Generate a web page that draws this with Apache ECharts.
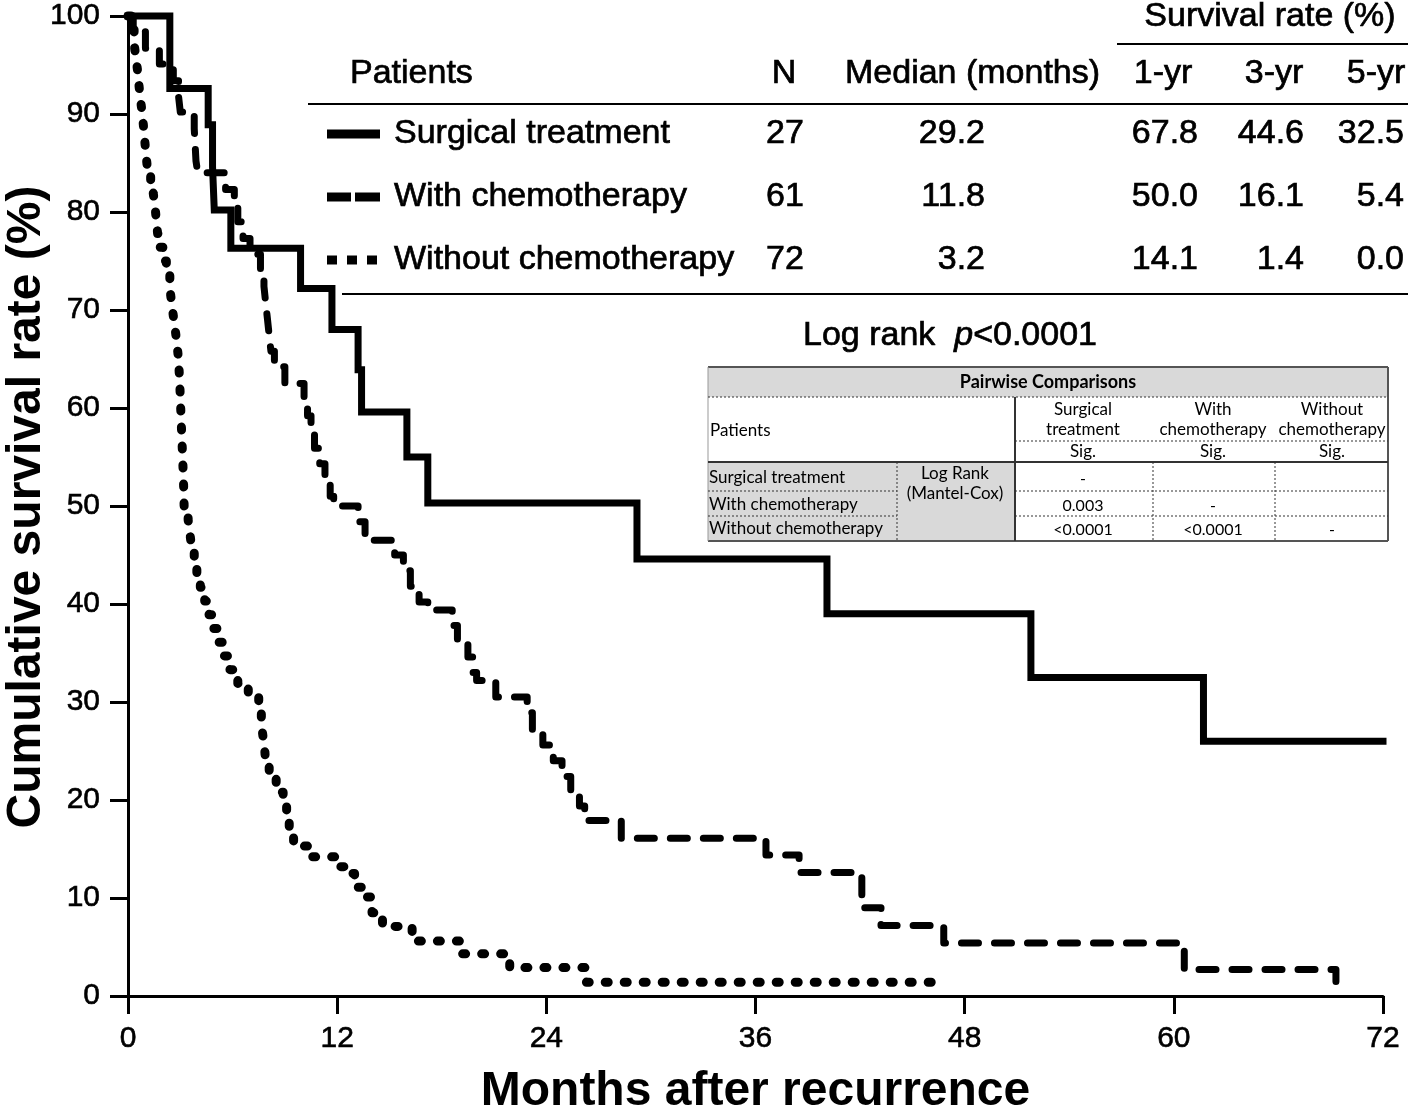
<!DOCTYPE html>
<html><head><meta charset="utf-8">
<script src="https://cdn.jsdelivr.net/npm/echarts@6/dist/echarts.min.js"></script>
<style>html,body{margin:0;padding:0;background:#fff}#c{width:1418px;height:1117px}</style>
</head><body><div id="c"></div><script>
// ---- Kaplan-Meier data (months, survival %) ----
const surgicalMonths = [0, 2.4, 4.6, 4.85, 4.95, 5.9, 9.9, 11.7, 13.2, 13.4, 16.0, 17.2, 29.2, 40.1, 51.8, 61.7, 72];
const surgicalSurv   = [100, 92.6, 88.9, 84.6, 80.2, 76.3, 72.2, 68.0, 63.9, 59.6, 55.0, 50.3, 44.6, 39.0, 32.5, 26.0, 26.0];

const chemoMonths = [0, 0.3, 1.0, 1.8, 2.6, 2.9, 3.0, 3.8, 3.85, 3.9, 4.0, 5.6, 6.1, 6.3, 6.6, 7.0, 7.6, 7.8, 7.9, 8.0, 8.1, 8.2, 8.4, 9.0, 10.1, 10.3, 10.5, 10.7, 11.0, 11.3, 11.6, 11.8, 13.2, 13.6, 15.3, 15.8, 16.2, 16.7, 17.2, 18.6, 18.9, 19.5, 19.8, 20.0, 21.1, 22.9, 23.2, 23.8, 24.4, 24.9, 25.4, 25.9, 26.2, 28.3, 36.6, 38.5, 42.1, 43.2, 46.8, 60.6, 69.3];
const chemoSurv   = [100, 98.4, 96.7, 95.1, 93.4, 91.8, 90.2, 88.5, 86.9, 85.2, 84.0, 82.3, 80.6, 79.0, 77.3, 75.7, 74.0, 72.4, 70.7, 69.1, 67.4, 65.8, 64.2, 62.5, 60.9, 59.2, 57.6, 55.9, 54.3, 52.7, 51.0, 50.0, 48.4, 46.5, 45.0, 43.4, 41.8, 40.2, 39.4, 37.8, 36.2, 34.6, 33.0, 32.2, 30.5, 28.9, 27.2, 25.6, 24.0, 22.4, 21.0, 19.4, 17.9, 16.1, 14.4, 12.6, 9.0, 7.2, 5.4, 2.7, 0];

const noChemoMonths = [0, 0.2, 0.35, 0.45, 0.55, 0.62, 0.7, 0.8, 0.88, 0.95, 1.02, 1.1, 1.3, 1.45, 1.55, 1.62, 1.7, 1.85, 2.0, 2.2, 2.4, 2.5, 2.6, 2.7, 2.8, 2.88, 2.93, 2.97, 3.0, 3.03, 3.06, 3.09, 3.12, 3.15, 3.18, 3.2, 3.22, 3.45, 3.55, 3.65, 3.8, 3.95, 4.15, 4.4, 4.65, 4.9, 5.2, 5.5, 5.85, 6.3, 6.9, 7.5, 7.65, 7.75, 7.85, 7.9, 8.1, 8.5, 8.9, 9.1, 9.25, 9.5, 10.6, 12.07, 12.6, 13.0, 13.5, 14.0, 14.6, 16.3, 16.55, 19.1, 21.9, 26.3, 46.2];
const noChemoSurv   = [100, 98.6, 97.2, 95.8, 94.4, 93.1, 91.7, 90.3, 88.9, 87.5, 86.1, 84.7, 83.3, 81.9, 80.6, 79.2, 77.8, 76.4, 75.0, 73.6, 72.2, 70.8, 69.4, 68.1, 66.7, 65.3, 63.9, 62.5, 61.1, 59.7, 58.3, 56.9, 55.6, 54.2, 52.8, 51.4, 50.0, 48.6, 47.2, 45.8, 44.4, 43.1, 41.7, 40.3, 38.9, 37.5, 36.1, 34.7, 33.3, 31.9, 30.6, 29.2, 27.8, 26.4, 25.0, 23.6, 22.2, 20.8, 19.4, 18.1, 16.7, 15.3, 14.2, 13.2, 12.5, 11.1, 10.1, 8.5, 7.1, 6.2, 5.6, 4.3, 2.9, 1.4, 0];

// ---- Axis titles ----
const xTitle = 'Months after recurrence';
const yTitle = 'Cumulative survival rate (%)';

// ---- Summary table ----
const groupNames   = ['Surgical treatment', 'With chemotherapy', 'Without chemotherapy'];
const groupN       = ['27', '61', '72'];
const groupMedian  = ['29.2', '11.8', '3.2'];
const groupYr1     = ['67.8', '50.0', '14.1'];
const groupYr3     = ['44.6', '16.1', '1.4'];
const groupYr5     = ['32.5', '5.4', '0.0'];
const tableHeaders = ['Patients', 'N', 'Median (months)', '1-yr', '3-yr', '5-yr'];
const logRankText  = '<0.0001';

// ---- Pairwise comparisons ----
const pairRowNames = ['Surgical treatment', 'With chemotherapy', 'Without chemotherapy'];
const pairColNames = [['Surgical', 'treatment'], ['With', 'chemotherapy'], ['Without', 'chemotherapy']];
const pairSig = [['-', '', ''], ['0.003', '-', ''], ['<0.0001', '<0.0001', '-']];

const zip = (a, b) => a.map((v, i) => [v, b[i]]);
const FONT = "'Liberation Sans', Arial, sans-serif";
const TFONT = "Lato, 'Open Sans', sans-serif";

const g = [];
function txt(x, y, text, size, opts = {}) {
  const st = {
    text: text, fill: '#000',
    font: (opts.weight || 'normal') + ' ' + size + 'px ' + (opts.family || FONT),
    align: opts.align || 'left', verticalAlign: 'middle',
    textAlign: opts.align || 'left', textVerticalAlign: 'middle'
  };
  if (opts.heavy) { st.stroke = '#000'; st.lineWidth = opts.heavy; }
  const el = { type: 'text', x: x, y: y, z: 100, silent: true, style: Object.assign(st, opts.extra || {}) };
  if (opts.rotation) el.rotation = opts.rotation;
  g.push(el);
}
function ln(x1, y1, x2, y2, w, opts = {}) {
  g.push({
    type: 'line', z: 90, silent: true,
    shape: { x1: x1, y1: y1, x2: x2, y2: y2 },
    style: { stroke: opts.color || '#000', lineWidth: w, lineDash: opts.dash || null, lineCap: opts.cap || 'butt' }
  });
}
function rect(x, y, w, h, fill) {
  g.push({ type: 'rect', z: 80, silent: true, shape: { x: x, y: y, width: w, height: h }, style: { fill: fill } });
}

// Y axis title (rotated)
txt(27, 507, yTitle, 48, { align: 'center', weight: 'bold', rotation: Math.PI / 2 });

// Summary table (top right)
const H = 0.7;
txt(1270, 17, 'Survival rate (%)', 34, { align: 'center', heavy: H });
ln(1117, 44, 1408, 44, 2);
const headY = 74;
txt(350, headY, tableHeaders[0], 34, { heavy: H });
txt(784, headY, tableHeaders[1], 34, { align: 'center', heavy: H });
txt(845, headY, tableHeaders[2], 34, { heavy: H });
txt(1163, headY, tableHeaders[3], 34, { align: 'center', heavy: H });
txt(1274, headY, tableHeaders[4], 34, { align: 'center', heavy: H });
txt(1376, headY, tableHeaders[5], 34, { align: 'center', heavy: H });
ln(308, 104, 1408, 104, 2);
const rowY = [134, 197, 260];
groupNames.forEach((name, i) => {
  const y = rowY[i];
  txt(394, y, name, 34, { heavy: H });
  txt(785, y, groupN[i], 34, { align: 'center', heavy: H });
  txt(985, y, groupMedian[i], 34, { align: 'right', heavy: H });
  txt(1198, y, groupYr1[i], 34, { align: 'right', heavy: H });
  txt(1304, y, groupYr3[i], 34, { align: 'right', heavy: H });
  txt(1404, y, groupYr5[i], 34, { align: 'right', heavy: H });
});
ln(342, 294, 1408, 294, 2);
// legend samples
ln(327, 134, 380, 134, 9);
ln(327, 197, 351, 197, 9); ln(355, 197, 380, 197, 9);
ln(327, 260, 337, 260, 9); ln(347, 260, 357, 260, 9); ln(367, 260, 377, 260, 9);

// Log rank  p<0.0001 (p in italics)
g.push({
  type: 'text', x: 950, y: 336, z: 100, silent: true,
  style: {
    text: '{a|Log rank  }{b|p}{a|' + logRankText + '}',
    align: 'center', verticalAlign: 'middle',
    rich: {
      a: { fontFamily: FONT, fontSize: 34, fontStyle: 'normal', fill: '#000', stroke: '#000', lineWidth: H },
      b: { fontFamily: FONT, fontSize: 34, fontStyle: 'italic', fill: '#000', stroke: '#000', lineWidth: H }
    }
  }
});

// Pairwise table
const T = { l: 708, r: 1388, t: 367, b: 541 };
rect(T.l, T.t, T.r - T.l, 30, '#d9d9d9');
rect(T.l, 462, 1015 - T.l, T.b - 462, '#d9d9d9');
const dot = [2, 2];
ln(T.l, T.t, T.r, T.t, 2, { color: '#555' });
ln(T.l, T.b, T.r, T.b, 2, { color: '#555' });
ln(T.l, T.t, T.l, T.b, 1, { color: '#999' });
ln(T.r, T.t, T.r, T.b, 2, { color: '#555' });
ln(T.l, 397, T.r, 397, 1, { color: '#333', dash: dot });
ln(1015, 397, 1015, T.b, 2, { color: '#333' });
ln(1015, 441, T.r, 441, 1, { color: '#333', dash: dot });
ln(T.l, 462, T.r, 462, 2, { color: '#333' });
ln(897, 462, 897, T.b, 1, { color: '#333', dash: dot });
ln(1153, 462, 1153, T.b, 1, { color: '#333', dash: dot });
ln(1275, 462, 1275, T.b, 1, { color: '#333', dash: dot });
[491, 516].forEach(y => {
  ln(T.l, y, 897, y, 1, { color: '#333', dash: dot });
  ln(1015, y, T.r, y, 1, { color: '#333', dash: dot });
});
const PS = 17;
txt(1048, 382, 'Pairwise Comparisons', 18, { align: 'center', weight: 'bold', family: TFONT });
txt(710, 431, 'Patients', PS, { family: TFONT });
const colX = [1083, 1213, 1332];
pairColNames.forEach((c, j) => {
  txt(colX[j], 410, c[0], PS, { align: 'center', family: TFONT });
  txt(colX[j], 430, c[1], PS, { align: 'center', family: TFONT });
  txt(colX[j], 452, 'Sig.', PS, { align: 'center', family: TFONT });
});
const pRowY = [478, 505, 529];
pairRowNames.forEach((name, i) => {
  txt(709, pRowY[i], name, PS, { family: TFONT });
  pairSig[i].forEach((v, j) => { if (v) txt(colX[j], pRowY[i] + 1, v, 16, { align: 'center', family: TFONT }); });
});
txt(955, 474, 'Log Rank', PS, { align: 'center', family: TFONT });
txt(955, 494, '(Mantel-Cox)', PS, { align: 'center', family: TFONT });

const chart = echarts.init(document.getElementById('c'), null, { renderer: 'canvas' });
const axisCommon = {
  axisLine: { show: true, lineStyle: { color: '#000', width: 3 } },
  axisTick: { show: true, length: 18, lineStyle: { color: '#000', width: 3 } },
  axisLabel: { color: '#000', fontSize: 30, fontFamily: FONT, margin: 28, textBorderColor: '#000', textBorderWidth: 0.6 },
  splitLine: { show: false },
  nameLocation: 'middle',
  nameTextStyle: { color: '#000', fontSize: 48, fontWeight: 'bold', fontFamily: FONT }
};
chart.setOption({
  backgroundColor: '#fff',
  animation: false,
  grid: { left: 128, right: 35, top: 16, bottom: 121, containLabel: false, outerBoundsMode: 'none' },
  xAxis: Object.assign({}, axisCommon, { type: 'value', min: 0, max: 72, interval: 12, name: xTitle, nameGap: 72 }),
  yAxis: Object.assign({}, axisCommon, { type: 'value', min: 0, max: 100, interval: 10 }),
  series: [
    { name: 'Surgical treatment', type: 'line', step: 'end', showSymbol: false, symbol: 'none', clip: false, z: 5,
      data: zip(surgicalMonths, surgicalSurv),
      lineStyle: { color: '#000', width: 7, type: 'solid', cap: 'square', join: 'miter' } },
    { name: 'With chemotherapy', type: 'line', step: 'end', showSymbol: false, symbol: 'none', clip: false, z: 4,
      data: zip(chemoMonths, chemoSurv),
      lineStyle: { color: '#000', width: 7, type: [17, 16], cap: 'round', join: 'round' } },
    { name: 'Without chemotherapy', type: 'line', step: 'end', showSymbol: false, symbol: 'none', clip: false, z: 3,
      data: zip(noChemoMonths, noChemoSurv),
      lineStyle: { color: '#000', width: 9, type: [3, 16], cap: 'round', join: 'round' } }
  ],
  graphic: { elements: g }
});
</script></body></html>
